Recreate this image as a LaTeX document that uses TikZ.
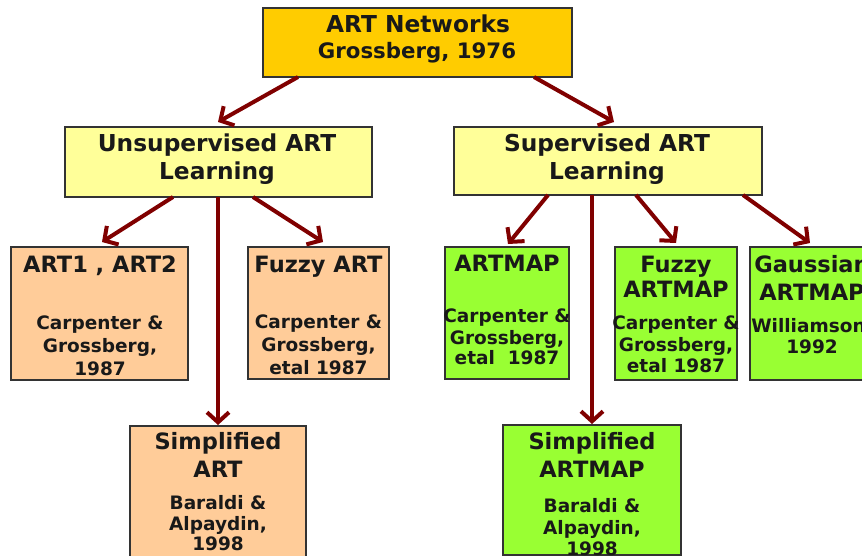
\documentclass[tikz,border=0pt]{standalone}
\usepackage{fontspec}
\setmainfont{DejaVu Sans}
\usetikzlibrary{arrows.meta,calc}
\definecolor{rootfill}{HTML}{FFCC00}
\definecolor{midfill}{HTML}{FFFF99}
\definecolor{peach}{HTML}{FFCC99}
\definecolor{lime}{HTML}{99FF33}
\definecolor{maroon}{HTML}{800000}
\begin{document}
\begin{tikzpicture}[x=1pt,y=-1pt,
  box/.style={draw=black!80, line width=1.3pt, inner sep=0pt, outer sep=0pt, rectangle},
  head/.style={font=\bfseries\fontsize{23.3}{28}\selectfont, anchor=base, inner sep=0pt, text=black!90},
  ttl/.style={font=\bfseries\fontsize{22.5}{27}\selectfont, anchor=base, inner sep=0pt, text=black!90},
  sub/.style={font=\bfseries\fontsize{21.3}{25}\selectfont, anchor=base, inner sep=0pt, text=black!90},
  cred/.style={font=\bfseries\fontsize{18.5}{22}\selectfont, anchor=base, inner sep=0pt, text=black!90},
  arr/.style={draw=maroon, line width=4pt, -{Straight Barb[length=10pt,width=22pt]}}]
\useasboundingbox (0,0) rectangle (862,556);
\clip (0,0) rectangle (862,556);

% boxes
\node[box, fill=rootfill, minimum width=309pt, minimum height=69pt] (top) at (417.5,42.5) {};
\node[box, fill=midfill, minimum width=307pt, minimum height=70pt] (unsup) at (218.5,162) {};
\node[box, fill=midfill, minimum width=308pt, minimum height=68pt] (sup) at (608,161) {};
\node[box, fill=peach, minimum width=177pt, minimum height=133pt] (art1) at (99.5,313.5) {};
\node[box, fill=peach, minimum width=141pt, minimum height=132pt] (fuzzyart) at (318.5,313) {};
\node[box, fill=peach, minimum width=176pt, minimum height=154pt] (simpart) at (218,503) {};
\node[box, fill=lime, minimum width=124pt, minimum height=132pt] (artmap) at (507,313) {};
\node[box, fill=lime, minimum width=122pt, minimum height=133pt] (fuzzymap) at (676,313.5) {};
\node[box, fill=lime, minimum width=124pt, minimum height=133pt] (gauss) at (812,313.5) {};
\node[box, fill=lime, minimum width=178pt, minimum height=130pt] (simpmap) at (592,490) {};

% texts
\node[head] (top-a) at (418,33) {ART Networks};
\node[sub] (top-b) at (417,59) {Grossberg, 1976};

\node[head] (unsup-a) at (217,152) {Unsupervised ART};
\node[head] (unsup-b) at (217,180) {Learning};
\node[head] (sup-a) at (607,152) {Supervised ART};
\node[head] (sup-b) at (607,180) {Learning};

\node[ttl] (art1-a) at (100,272) {ART1 , ART2};
\node[cred] (art1-b) at (100,329) {Carpenter \&};
\node[cred] (art1-c) at (100,352) {Grossberg,};
\node[cred] (art1-d) at (100,375) {1987};

\node[ttl] (fuzzyart-a) at (318.5,272) {Fuzzy ART};
\node[cred] (fuzzyart-b) at (318.5,328) {Carpenter \&};
\node[cred] (fuzzyart-c) at (318.5,351) {Grossberg,};
\node[cred] (fuzzyart-d) at (318.5,374) {etal 1987};

\node[ttl] (simpart-a) at (218,449) {Simplified};
\node[ttl] (simpart-b) at (218,477) {ART};
\node[cred] (simpart-c) at (218,509) {Baraldi \&};
\node[cred] (simpart-d) at (218,530) {Alpaydin,};
\node[cred] (simpart-e) at (218,550) {1998};

\node[ttl] (artmap-a) at (507,271) {ARTMAP};
\node[cred] (artmap-b) at (507,322) {Carpenter \&};
\node[cred] (artmap-c) at (507,344) {Grossberg,};
\node[cred] (artmap-d) at (507,364) {etal\ \ 1987};

\node[ttl] (fuzzymap-a) at (676,272) {Fuzzy};
\node[ttl] (fuzzymap-b) at (676,297) {ARTMAP};
\node[cred] (fuzzymap-c) at (676,329) {Carpenter \&};
\node[cred] (fuzzymap-d) at (676,351) {Grossberg,};
\node[cred] (fuzzymap-e) at (676,372) {etal 1987};

\node[ttl] (gauss-a) at (812,272) {Gaussian};
\node[ttl] (gauss-b) at (812,300) {ARTMAP};
\node[cred] (gauss-c) at (812,332) {Williamson,};
\node[cred] (gauss-d) at (812,353) {1992};

\node[ttl] (simpmap-a) at (592,449) {Simplified};
\node[ttl] (simpmap-b) at (592,477) {ARTMAP};
\node[cred] (simpmap-c) at (592,512) {Baraldi \&};
\node[cred] (simpmap-d) at (592,534) {Alpaydin,};
\node[cred] (simpmap-e) at (592,555) {1998};

% connectors
\draw[arr] ($(top.south west)+(35,0)$) -- ($(unsup.north west)+(153,-5)$);
\draw[arr] ($(top.south west)+(271,0)$) -- ($(sup.north west)+(160,-5)$);
\draw[arr] ($(unsup.south west)+(108,0)$) -- ($(art1.north west)+(91,-5)$);
\draw[arr] ($(unsup.south west)+(188,0)$) -- ($(fuzzyart.north west)+(75,-5)$);
\draw[arr] (simpart.north |- unsup.south) -- ($(simpart.north)+(0,-1)$);
\draw[arr] ($(sup.south west)+(94,0)$) -- ($(artmap.north west)+(63,-3)$);
\draw[arr] (simpmap.north |- sup.south) -- ($(simpmap.north)+(0,-1)$);
\draw[arr] ($(sup.south west)+(182,0)$) -- ($(fuzzymap.north west)+(61,-4)$);
\draw[arr] ($(sup.south west)+(289,0)$) -- ($(gauss.north west)+(60,-4)$);
\end{tikzpicture}
\end{document}
